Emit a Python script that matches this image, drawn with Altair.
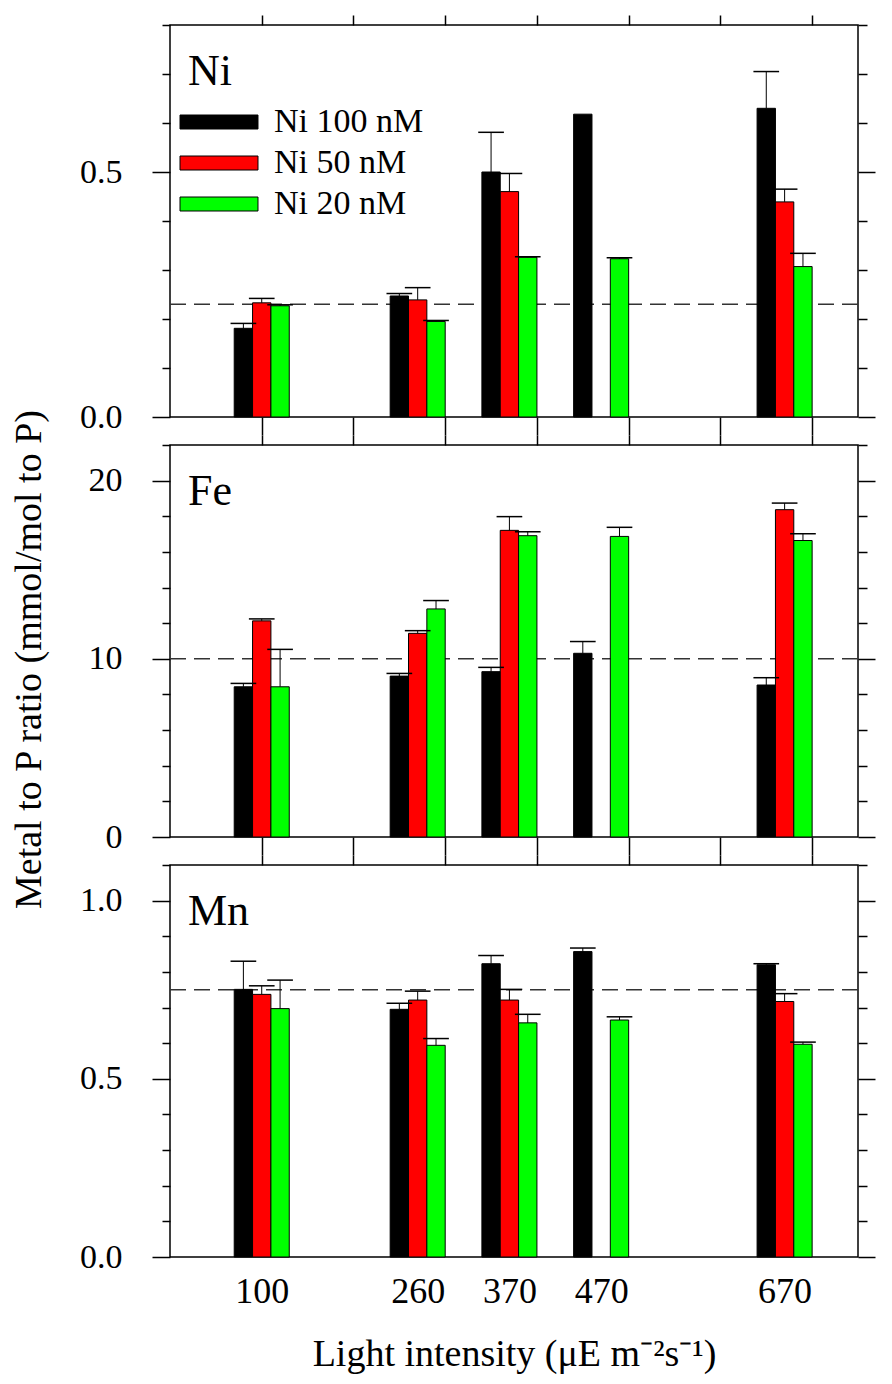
import json
import altair as alt
import pandas as pd

FONT = "Liberation Serif"

# ---- categories / ticks ----
light_labels = ["100", "260", "370", "470", "670"]
light_pos = [100, 270, 370, 470, 670]          # where each group is drawn on the light axis
x_ticks = [100, 200, 300, 400, 500, 600, 700]
series = ["Ni 100 nM", "Ni 50 nM", "Ni 20 nM"]
colors = ["#000000", "#ff0000", "#00ff00"]

# ---- Ni panel ----
ni_100 = [0.181, 0.247, 0.500, 0.618, 0.630]
ni_100_err = [0.010, 0.005, 0.081, None, 0.075]
ni_50 = [0.233, 0.239, 0.460, None, 0.439]
ni_50_err = [0.009, 0.025, 0.037, None, 0.026]
ni_20 = [0.227, 0.195, 0.326, 0.323, 0.307]
ni_20_err = [0.002, 0.002, 0.001, 0.002, 0.027]
ni_ref = 0.23
ni_ticks = [0.0, 0.1, 0.2, 0.3, 0.4, 0.5, 0.6, 0.7, 0.8]
ni_major = [0.0, 0.5]

# ---- Fe panel ----
fe_100 = [8.43, 9.03, 9.28, 10.31, 8.53]
fe_100_err = [0.19, 0.15, 0.24, 0.66, 0.41]
fe_50 = [12.13, 11.43, 17.21, None, 18.37]
fe_50_err = [0.11, 0.15, 0.77, None, 0.37]
fe_20 = [8.43, 12.80, 16.91, 16.87, 16.64]
fe_20_err = [2.10, 0.47, 0.22, 0.51, 0.38]
fe_ref = 10
fe_ticks = [0, 2, 4, 6, 8, 10, 12, 14, 16, 18, 20, 22]
fe_major = [0, 10, 20]

# ---- Mn panel ----
mn_100 = [0.751, 0.695, 0.823, 0.857, 0.820]
mn_100_err = [0.079, 0.017, 0.023, 0.010, 0.003]
mn_50 = [0.737, 0.721, 0.721, None, 0.717]
mn_50_err = [0.024, 0.025, 0.030, None, 0.022]
mn_20 = [0.697, 0.594, 0.657, 0.665, 0.597]
mn_20_err = [0.080, 0.019, 0.024, 0.009, 0.006]
mn_ref = 0.75
mn_ticks = [0.0, 0.1, 0.2, 0.3, 0.4, 0.5, 0.6, 0.7, 0.8, 0.9, 1.0, 1.1]
mn_major = [0.0, 0.5, 1.0]

y_title = "Metal to P ratio (mmol/mol to P)"
x_title = "Light intensity (\u03bcE m\u207b\u00b2s\u207b\u00b9)"

PANEL_W, PANEL_H = 688, 392


def build_df(vals, errs):
    rows = []
    for k, (s, vl, el) in enumerate(zip(series, vals, errs)):
        for pos, lab, v, e in zip(light_pos, light_labels, vl, el):
            rows.append(dict(pos=pos, label=lab, series=s, k=k, value=v,
                             top=None if (v is None or e is None) else v + e))
    return pd.DataFrame(rows)


def panel(name, vals, errs, ref, domain, ticks, major, fmt,
          legend=False, bottom=False, ytitle=None):
    df = build_df(vals, errs)
    xs = alt.Scale(domain=[0, 750], nice=False, zero=False)
    ys = alt.Scale(domain=domain, nice=False, zero=False)
    is_major = f"indexof({json.dumps(major)}, datum.value) >= 0"

    left_kw = dict(orient="left", values=ticks,
                   labelExpr=f"{is_major} ? format(datum.value, '{fmt}') : ''",
                   tickSize={"condition": {"test": is_major, "value": 18}, "value": 8},
                   labelPadding=30, labelFontSize=34, labelFont=FONT,
                   title=None)
    if ytitle:
        left_kw.update(title=ytitle, titleFontSize=38, titleFont=FONT,
                       titleFontWeight="normal", titleAngle=270,
                       titleAlign="center", titleBaseline="alphabetic",
                       titleX=-130, titleY=214)
    left_axis = alt.Axis(**left_kw)
    right_axis = alt.Axis(orient="right", values=ticks, labels=False, title=None,
                          tickSize={"condition": {"test": is_major, "value": 17}, "value": 9})
    top_axis = alt.Axis(orient="top", values=x_ticks, labels=False, title=None, tickSize=10)
    if bottom:
        lab_expr = " : ".join(f"datum.value == {p} ? '{l}'" for p, l in zip(light_pos, light_labels)) + " : ''"
        bottom_axis = alt.Axis(orient="bottom", values=light_pos, ticks=False,
                               labelExpr=lab_expr, labelFontSize=36, labelFont=FONT,
                               labelPadding=17, title=x_title, titleFontSize=38,
                               titleFont=FONT, titleFontWeight="normal", titlePadding=26)
    else:
        bottom_axis = alt.Axis(orient="bottom", values=x_ticks, labels=False,
                               title=None, tickSize=18)

    base = alt.Chart(df).transform_calculate(
        x1="datum.pos - 30 + 20 * datum.k",
        x2="datum.pos - 10 + 20 * datum.k",
        xc="datum.pos - 20 + 20 * datum.k",
        c1="datum.pos - 34 + 20 * datum.k",
        c2="datum.pos - 6 + 20 * datum.k",
    )

    if legend:
        leg = alt.Legend(orient="none", legendX=32, legendY=80, title=None,
                         symbolType="M-5.57,-1H5.57V1H-5.57Z", symbolSize=196,
                         symbolStrokeColor="black", symbolStrokeWidth=1,
                         symbolOpacity=1, labelFont=FONT, labelFontSize=34,
                         labelColor="black", labelOffset=38, rowPadding=7,
                         padding=0)
    else:
        leg = None

    dash = alt.Chart(pd.DataFrame({"ref": [ref]})).mark_rule(
        color="#333333", strokeWidth=1.5, strokeDash=[16, 8]
    ).encode(y=alt.Y("ref:Q", scale=ys, axis=None))

    bars = base.transform_filter("isValid(datum.value)").mark_rect(
        stroke="black", strokeWidth=1, opacity=1
    ).encode(
        x=alt.X("x1:Q", scale=xs, axis=bottom_axis),
        x2="x2:Q",
        y=alt.Y("value:Q", scale=ys, axis=left_axis),
        y2=alt.datum(0),
        color=alt.Color("series:N", scale=alt.Scale(domain=series, range=colors),
                        legend=leg),
    )

    stems = base.transform_filter("isValid(datum.top)").mark_rule(
        color="black", strokeWidth=1
    ).encode(
        x=alt.X("xc:Q", scale=xs, axis=top_axis),
        y=alt.Y("value:Q", scale=ys, axis=right_axis),
        y2="top:Q",
    )

    caps = base.transform_filter("isValid(datum.top)").mark_rule(
        color="black", strokeWidth=1.5
    ).encode(
        x=alt.X("c1:Q", scale=xs, axis=None),
        x2="c2:Q",
        y=alt.Y("top:Q", scale=ys, axis=None),
    )

    label = alt.Chart(pd.DataFrame({"name": [name]})).mark_text(
        align="left", baseline="alphabetic", font=FONT, fontSize=44, color="black"
    ).encode(text="name:N", x=alt.value(18), y=alt.value(60))

    return alt.layer(dash, bars, stems, caps, label).resolve_axis(
        x="independent", y="independent"
    ).properties(width=PANEL_W, height=PANEL_H)


ni = panel("Ni", [ni_100, ni_50, ni_20], [ni_100_err, ni_50_err, ni_20_err], ni_ref,
           [0, 0.8], ni_ticks, ni_major, ".1f", legend=True)
fe = panel("Fe", [fe_100, fe_50, fe_20], [fe_100_err, fe_50_err, fe_20_err], fe_ref,
           [0, 22], fe_ticks, fe_major, "d", ytitle=y_title)
mn = panel("Mn", [mn_100, mn_50, mn_20], [mn_100_err, mn_50_err, mn_20_err], mn_ref,
           [0, 1.1], mn_ticks, mn_major, ".1f", bottom=True)

chart = alt.vconcat(ni, fe, mn, spacing=28, bounds="flush").resolve_scale(
    x="independent", y="independent", color="independent"
).properties(
    padding={"left": 1, "top": 5, "right": 5, "bottom": 5},
    background="white",
).configure_view(
    stroke="black", strokeWidth=1.5
).configure_axis(
    domain=False, grid=False, tickColor="black", tickWidth=1.5,
    labelColor="black", titleColor="black", labelFont=FONT, titleFont=FONT,
)

chart.save("out.html", embed_options={"renderer": "svg", "actions": False})
